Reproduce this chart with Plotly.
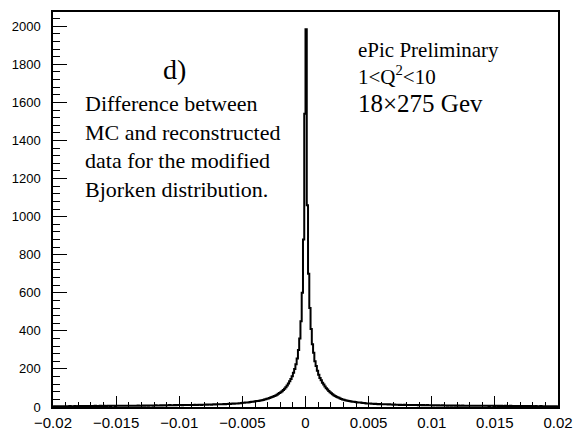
import numpy as np
import plotly.graph_objects as go

# ---------------- data ----------------
x_min, x_max = -0.02, 0.02

# bin contents, 400 bins of width 0.0001, from -0.02 to 0 (left half)
counts_neg = [
    3, 4, 4, 3, 4, 4, 3, 4, 4, 4, 3, 4, 4, 5, 4, 4, 4, 5, 4, 4,
    5, 4, 5, 5, 4, 5, 4, 5, 5, 5, 4, 5, 5, 6, 5, 5, 5, 6, 5, 5,
    6, 5, 5, 6, 6, 5, 6, 6, 6, 5, 6, 6, 7, 6, 6, 6, 7, 6, 7, 6,
    7, 6, 7, 7, 6, 7, 7, 8, 7, 7, 7, 8, 7, 8, 8, 7, 8, 8, 8, 7,
    8, 9, 8, 8, 8, 9, 8, 9, 9, 8, 9, 9, 10, 9, 9, 9, 10, 9, 10, 10,
    10, 10, 9, 10, 11, 10, 10, 11, 11, 10, 11, 11, 12, 11, 11, 12, 12, 11, 12, 12,
    12, 13, 12, 13, 13, 12, 13, 14, 13, 14, 14, 15, 14, 15, 15, 16, 15, 16, 16, 17,
    16, 17, 18, 17, 18, 19, 19, 20, 20, 21, 22, 22, 23, 24, 24, 25, 26, 27, 28, 29,
    30, 31, 32, 33, 34, 36, 37, 39, 41, 43, 45, 47, 50, 52, 55, 58, 61, 65, 69, 73,
    78, 83, 89, 96, 104, 113, 123, 135, 147, 162, 180, 200, 225, 255, 300, 360, 450, 600, 880, 1540,
]
# bin contents from 0 to 0.02 (right half)
counts_pos = [
    1985, 1060, 700, 520, 410, 330, 285, 240, 215, 190, 170, 152, 140, 128, 118, 108, 98, 92, 84, 78,
    72, 67, 62, 58, 54, 51, 48, 45, 42, 40, 38, 36, 34, 33, 31, 30, 29, 28, 27, 26,
    25, 24, 23, 23, 22, 21, 21, 20, 19, 19, 18, 18, 17, 17, 16, 17, 16, 15, 16, 15,
    15, 14, 15, 14, 14, 13, 14, 13, 13, 12, 13, 12, 12, 12, 11, 12, 11, 11, 12, 11,
    11, 10, 11, 11, 10, 10, 11, 10, 10, 9, 10, 10, 9, 10, 9, 9, 10, 9, 9, 9,
    9, 8, 9, 9, 8, 9, 8, 8, 9, 8, 8, 8, 7, 8, 8, 7, 8, 8, 7, 8,
    7, 8, 7, 7, 8, 7, 7, 7, 6, 7, 7, 7, 6, 7, 6, 7, 6, 6, 7, 6,
    6, 6, 7, 6, 6, 5, 6, 6, 6, 5, 6, 6, 5, 6, 5, 6, 5, 5, 6, 5,
    5, 5, 6, 5, 5, 5, 4, 5, 5, 5, 4, 5, 5, 4, 5, 5, 4, 5, 4, 5,
    4, 4, 5, 4, 4, 4, 5, 4, 4, 3, 4, 4, 4, 3, 4, 4, 3, 4, 4, 3,
]

x_tick_vals = [-0.02, -0.015, -0.01, -0.005, 0, 0.005, 0.01, 0.015, 0.02]
x_tick_text = ["\u22120.02", "\u22120.015", "\u22120.01", "\u22120.005", "0",
               "0.005", "0.01", "0.015", "0.02"]
y_tick_vals = [0, 200, 400, 600, 800, 1000, 1200, 1400, 1600, 1800, 2000]
y_max = 2075

label_panel = "d)"
label_lines = ["Difference between", "MC and reconstructed",
               "data for the modified", "Bjorken distribution."]
info_lines = ["ePic Preliminary", "1&lt;Q<sup>2</sup>&lt;10",
              '<span style="font-size:25px">18\u00d7275 Gev</span>']

# ---------------- figure ----------------
counts = counts_neg + counts_pos
edges = np.linspace(x_min, x_max, len(counts) + 1)
step_y = counts + [counts[-1]]

fig = go.Figure()
fig.add_trace(go.Scatter(
    x=edges, y=step_y, mode="lines",
    line=dict(shape="hv", color="black", width=2),
    hoverinfo="skip", showlegend=False,
))

W, H = 583, 441
L, R, T, B = 53, 18, 10, 18
pw, ph = W - L - R, H - T - B

def px(xp):
    return (xp - L) / pw

def py(yp):
    return (H - B - yp) / ph

serif = "Liberation Serif"
annotations = [
    dict(text=label_panel, x=px(176), y=py(70), xref="paper", yref="paper",
         xanchor="center", yanchor="middle", showarrow=False,
         font=dict(family=serif, size=28, color="black")),
    dict(text="<br>".join(label_lines), x=px(84), y=py(92), xref="paper", yref="paper",
         xanchor="left", yanchor="top", align="left", showarrow=False, borderpad=0,
         font=dict(family=serif, size=22, color="black")),
    dict(text="<br>".join(info_lines), x=px(361), y=py(36), xref="paper", yref="paper",
         xanchor="left", yanchor="top", align="left", showarrow=False, borderpad=0,
         font=dict(family=serif, size=21, color="black")),
]

fig.update_layout(
    width=W, height=H,
    margin=dict(l=L, r=R, t=T, b=B, pad=0),
    paper_bgcolor="white", plot_bgcolor="white",
    showlegend=False,
    annotations=annotations,
    xaxis=dict(
        range=[x_min, x_max], showgrid=False, zeroline=False,
        showline=True, linecolor="black", linewidth=1.5, mirror=True,
        ticks="inside", ticklen=11, tickwidth=1.2, tickcolor="black",
        tickvals=x_tick_vals, ticktext=x_tick_text,
        tickfont=dict(family="Liberation Sans", size=15, color="black"),
        ticklabelstandoff=1,
        minor=dict(dtick=0.001, tick0=0, ticks="inside", ticklen=5.5,
                   tickwidth=1.2, tickcolor="black", showgrid=False),
    ),
    yaxis=dict(
        range=[0, y_max], showgrid=False, zeroline=False,
        showline=True, linecolor="black", linewidth=1.5, mirror=True,
        ticks="inside", ticklen=14, tickwidth=1.2, tickcolor="black",
        tickvals=y_tick_vals,
        tickfont=dict(family="Liberation Sans", size=13, color="black"),
        ticklabelstandoff=8,
        minor=dict(dtick=40, tick0=0, ticks="inside", ticklen=7,
                   tickwidth=1.2, tickcolor="black", showgrid=False),
    ),
)

fig.write_html("out.html")
